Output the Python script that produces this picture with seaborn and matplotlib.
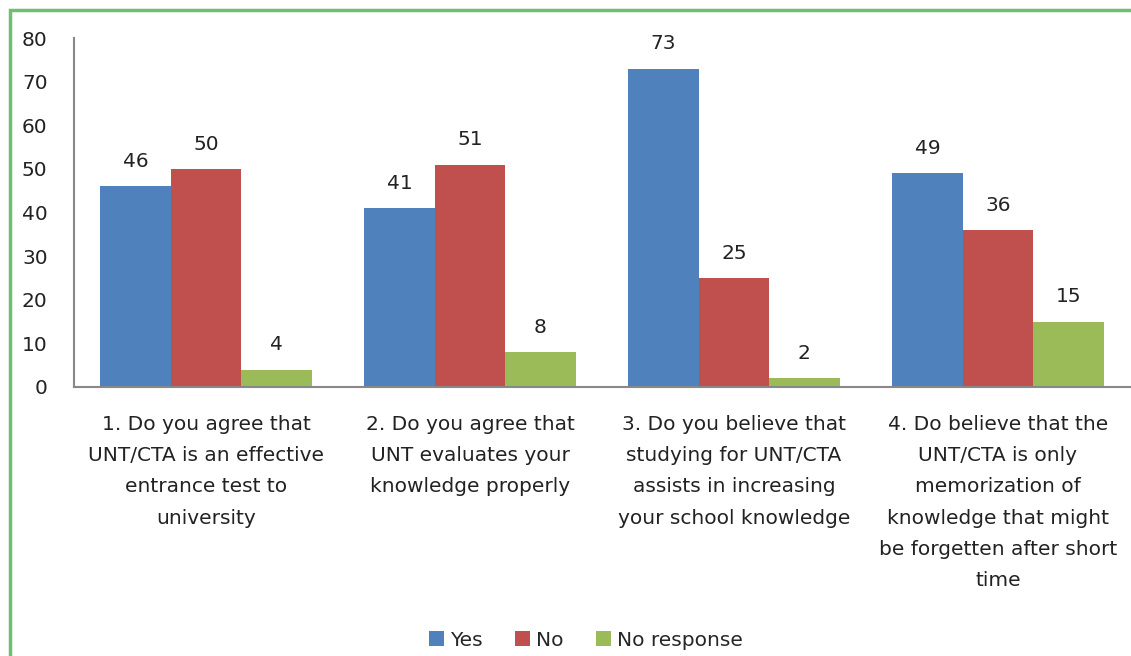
import matplotlib
matplotlib.use("Agg")
import matplotlib.pyplot as plt
import seaborn as sns
import pandas as pd
from matplotlib.patches import Rectangle

categories = [
    "1. Do you agree that\nUNT/CTA is an effective\nentrance test to\nuniversity",
    "2. Do you agree that\nUNT evaluates your\nknowledge properly",
    "3. Do you believe that\nstudying for UNT/CTA\nassists in increasing\nyour school knowledge",
    "4. Do believe that the\nUNT/CTA is only\nmemorization of\nknowledge that might\nbe forgetten after short\ntime",
]
series = ["Yes", "No", "No response"]
yes_vals = [46, 41, 73, 49]
no_vals = [50, 51, 25, 36]
noresp_vals = [4, 8, 2, 15]
yticks = [0, 10, 20, 30, 40, 50, 60, 70, 80]

colors = ["#4F81BD", "#C0504D", "#9BBB59"]

rows = []
for s, vals in zip(series, [yes_vals, no_vals, noresp_vals]):
    for c, v in zip(categories, vals):
        rows.append({"Question": c, "Answer": s, "Value": v})
df = pd.DataFrame(rows)

sns.set_style("white")
plt.rcParams["font.family"] = ["DejaVu Sans"]

fig = plt.figure(figsize=(11.31, 6.56), dpi=100)
ax = fig.add_axes([74 / 1131, 269 / 656, 1056 / 1131, 349 / 656])

sns.barplot(data=df, x="Question", y="Value", hue="Answer", hue_order=series,
            palette=colors, width=0.8, saturation=1, ax=ax, legend=True,
            linewidth=0, edgecolor="none")

for cont in ax.containers:
    ax.bar_label(cont, padding=11, fontsize=14.5, color="#222222")

ax.set_xlim(-0.5, 3.5)
ax.set_ylim(0, 80)
ax.set_yticks(yticks)
ax.set_xlabel("")
ax.set_ylabel("")
ax.tick_params(axis="y", length=0, pad=19, labelsize=14.5, labelcolor="#222222")
ax.tick_params(axis="x", length=0, pad=20, labelsize=14.5, labelcolor="#222222")
for lbl in ax.get_xticklabels():
    lbl.set_linespacing(1.82)
for side in ["top", "right"]:
    ax.spines[side].set_visible(False)
for side in ["left", "bottom"]:
    ax.spines[side].set_color("#888888")
    ax.spines[side].set_linewidth(1.5)

leg = ax.get_legend()
handles, labels = ax.get_legend_handles_labels()
leg.remove()
fig.legend(handles, labels, loc="center", bbox_to_anchor=(0.518, 0.024), ncol=3,
           frameon=False, fontsize=14.5, handlelength=0.75, handleheight=0.75,
           handletextpad=0.3, columnspacing=1.6)

fig.patches.append(Rectangle((10 / 1131, -0.1), 1.2, (656 - 10) / 656 + 0.1,
                             transform=fig.transFigure, fill=False,
                             edgecolor="#6CC070", linewidth=2.5))

fig.savefig("out.png", dpi=100)
